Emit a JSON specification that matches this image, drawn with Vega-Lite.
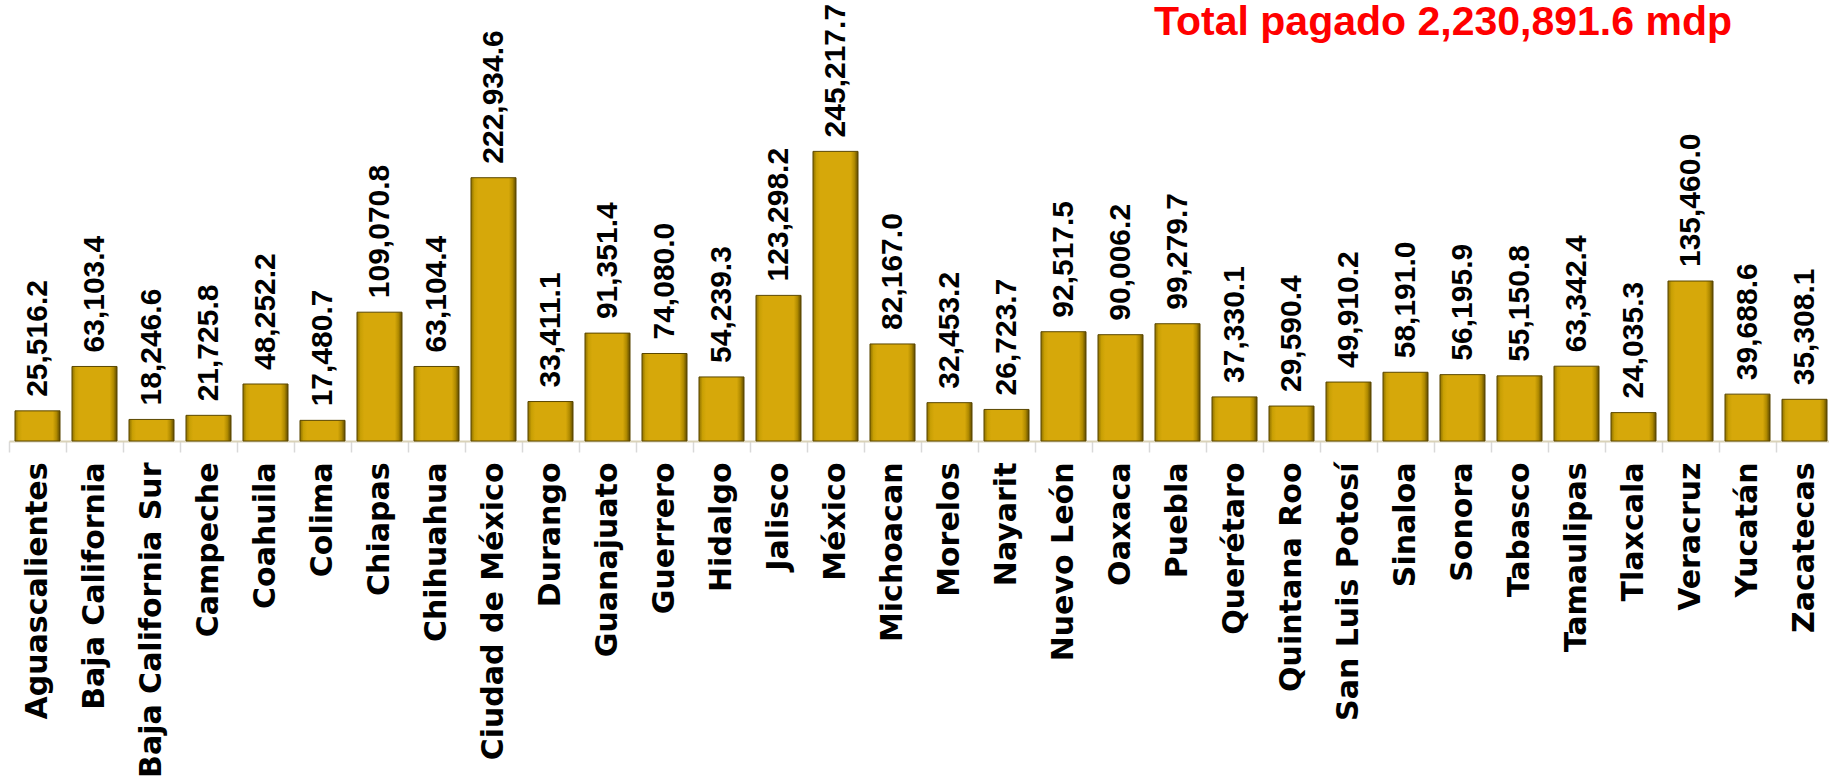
{
  "$schema": "https://vega.github.io/schema/vega-lite/v6.json",
  "width": 1820,
  "height": 396,
  "autosize": {"type": "none"},
  "padding": {"left": 9, "top": 45, "right": 0, "bottom": 336},
  "background": "white",
  "config": {"view": {"stroke": null}},
  "title": {
    "text": "Total pagado 2,230,891.6 mdp",
    "orient": "top",
    "anchor": "end",
    "frame": "group",
    "font": "Liberation Sans",
    "fontSize": 41,
    "fontWeight": "bold",
    "color": "#FF0000",
    "baseline": "alphabetic",
    "dx": -97,
    "offset": -72
  },
  "data": {
    "values": [
      {"estado": "Aguascalientes", "monto": 25516.2},
      {"estado": "Baja California", "monto": 63103.4},
      {"estado": "Baja California Sur", "monto": 18246.6},
      {"estado": "Campeche", "monto": 21725.8},
      {"estado": "Coahuila", "monto": 48252.2},
      {"estado": "Colima", "monto": 17480.7},
      {"estado": "Chiapas", "monto": 109070.8},
      {"estado": "Chihuahua", "monto": 63104.4},
      {"estado": "Ciudad de México", "monto": 222934.6},
      {"estado": "Durango", "monto": 33411.1},
      {"estado": "Guanajuato", "monto": 91351.4},
      {"estado": "Guerrero", "monto": 74080.0},
      {"estado": "Hidalgo", "monto": 54239.3},
      {"estado": "Jalisco", "monto": 123298.2},
      {"estado": "México", "monto": 245217.7},
      {"estado": "Michoacan", "monto": 82167.0},
      {"estado": "Morelos", "monto": 32453.2},
      {"estado": "Nayarit", "monto": 26723.7},
      {"estado": "Nuevo León", "monto": 92517.5},
      {"estado": "Oaxaca", "monto": 90006.2},
      {"estado": "Puebla", "monto": 99279.7},
      {"estado": "Querétaro", "monto": 37330.1},
      {"estado": "Quintana Roo", "monto": 29590.4},
      {"estado": "San Luis Potosí", "monto": 49910.2},
      {"estado": "Sinaloa", "monto": 58191.0},
      {"estado": "Sonora", "monto": 56195.9},
      {"estado": "Tabasco", "monto": 55150.8},
      {"estado": "Tamaulipas", "monto": 63342.4},
      {"estado": "Tlaxcala", "monto": 24035.3},
      {"estado": "Veracruz", "monto": 135460.0},
      {"estado": "Yucatán", "monto": 39688.6},
      {"estado": "Zacatecas", "monto": 35308.1}
    ]
  },
  "encoding": {
    "x": {
      "field": "estado",
      "type": "nominal",
      "sort": null,
      "scale": {"paddingInner": 0, "paddingOuter": 0, "range": [0, 1824]},
      "axis": {
        "title": null,
        "labelAngle": -90,
        "labelAlign": "right",
        "labelBaseline": "middle",
        "labelFont": "DejaVu Sans",
        "labelFontWeight": "bold",
        "labelFontSize": 30,
        "labelColor": "#000000",
        "labelPadding": 10,
        "labelLimit": 0,
        "labelOverlap": false,
        "tickBand": "extent",
        "tickSize": 11,
        "tickColor": "#D9D9D9",
        "tickWidth": 1.5,
        "domainColor": "#D9D2B8",
        "domainWidth": 2,
        "grid": false
      }
    },
    "y": {
      "field": "monto",
      "type": "quantitative",
      "scale": {"domain": [0, 335300], "nice": false, "zero": true},
      "axis": null
    }
  },
  "layer": [
    {
      "mark": {
        "type": "bar",
        "width": {"band": 0.79},
        "color": {
          "gradient": "linear",
          "x1": 0, "y1": 0, "x2": 1, "y2": 0,
          "stops": [
            {"offset": 0, "color": "#8C6F00"},
            {"offset": 0.08, "color": "#C9A004"},
            {"offset": 0.16, "color": "#D6A80A"},
            {"offset": 0.84, "color": "#D6A80A"},
            {"offset": 0.92, "color": "#B08A00"},
            {"offset": 1, "color": "#5E4A00"}
          ]
        },
        "stroke": "#5A4700",
        "strokeWidth": 1
      }
    },
    {
      "mark": {
        "type": "text",
        "angle": -90,
        "align": "left",
        "baseline": "middle",
        "dx": 14,
        "font": "Liberation Sans",
        "fontWeight": "bold",
        "fontSize": 30,
        "color": "#000000"
      },
      "encoding": {
        "text": {"field": "monto", "type": "quantitative", "format": ",.1f"}
      }
    }
  ]
}
